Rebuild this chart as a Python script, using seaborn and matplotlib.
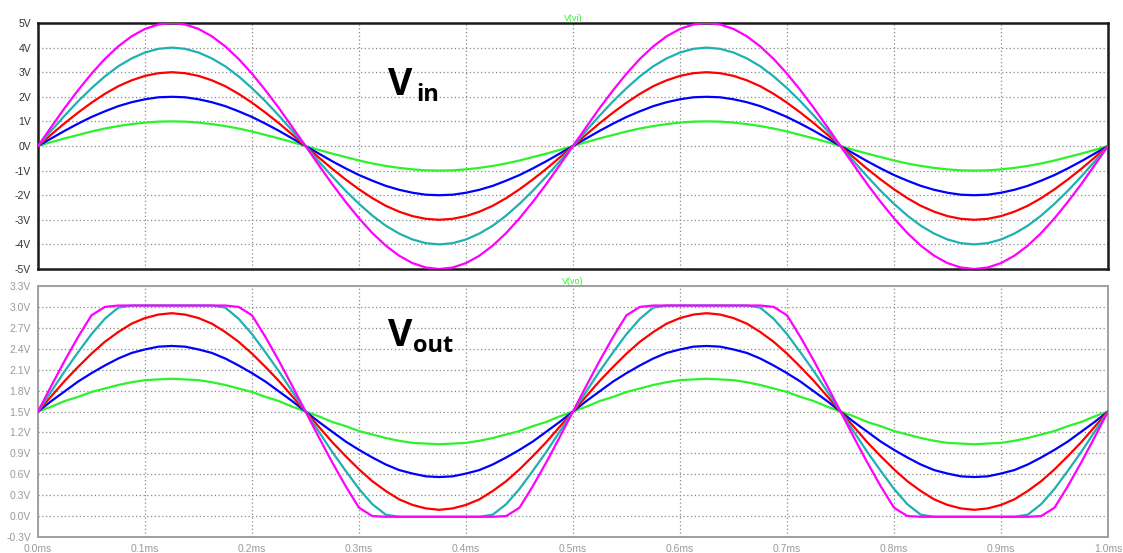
import numpy as np
import pandas as pd
import matplotlib
matplotlib.use("Agg")
import matplotlib.pyplot as plt
import seaborn as sns

# ---------------- data ----------------
# time samples in ms, step 0.0125 ms
time_ms = [round(i * 0.0125, 4) for i in range(81)]

vin_1 = [0, .16, .31, .45, .59, .71, .81, .89, .95, .99, 1, .99, .95, .89, .81, .71, .59, .45, .31, .16, 0,
         -.16, -.31, -.45, -.59, -.71, -.81, -.89, -.95, -.99, -1, -.99, -.95, -.89, -.81, -.71, -.59, -.45, -.31, -.16, 0,
         .16, .31, .45, .59, .71, .81, .89, .95, .99, 1, .99, .95, .89, .81, .71, .59, .45, .31, .16, 0,
         -.16, -.31, -.45, -.59, -.71, -.81, -.89, -.95, -.99, -1, -.99, -.95, -.89, -.81, -.71, -.59, -.45, -.31, -.16, 0]
vin_2 = [0, .31, .62, .91, 1.18, 1.41, 1.62, 1.78, 1.90, 1.98, 2, 1.98, 1.90, 1.78, 1.62, 1.41, 1.18, .91, .62, .31, 0,
         -.31, -.62, -.91, -1.18, -1.41, -1.62, -1.78, -1.90, -1.98, -2, -1.98, -1.90, -1.78, -1.62, -1.41, -1.18, -.91, -.62, -.31, 0,
         .31, .62, .91, 1.18, 1.41, 1.62, 1.78, 1.90, 1.98, 2, 1.98, 1.90, 1.78, 1.62, 1.41, 1.18, .91, .62, .31, 0,
         -.31, -.62, -.91, -1.18, -1.41, -1.62, -1.78, -1.90, -1.98, -2, -1.98, -1.90, -1.78, -1.62, -1.41, -1.18, -.91, -.62, -.31, 0]
vin_3 = [0, .47, .93, 1.36, 1.76, 2.12, 2.43, 2.67, 2.85, 2.96, 3, 2.96, 2.85, 2.67, 2.43, 2.12, 1.76, 1.36, .93, .47, 0,
         -.47, -.93, -1.36, -1.76, -2.12, -2.43, -2.67, -2.85, -2.96, -3, -2.96, -2.85, -2.67, -2.43, -2.12, -1.76, -1.36, -.93, -.47, 0,
         .47, .93, 1.36, 1.76, 2.12, 2.43, 2.67, 2.85, 2.96, 3, 2.96, 2.85, 2.67, 2.43, 2.12, 1.76, 1.36, .93, .47, 0,
         -.47, -.93, -1.36, -1.76, -2.12, -2.43, -2.67, -2.85, -2.96, -3, -2.96, -2.85, -2.67, -2.43, -2.12, -1.76, -1.36, -.93, -.47, 0]
vin_4 = [0, .63, 1.24, 1.82, 2.35, 2.83, 3.24, 3.56, 3.80, 3.95, 4, 3.95, 3.80, 3.56, 3.24, 2.83, 2.35, 1.82, 1.24, .63, 0,
         -.63, -1.24, -1.82, -2.35, -2.83, -3.24, -3.56, -3.80, -3.95, -4, -3.95, -3.80, -3.56, -3.24, -2.83, -2.35, -1.82, -1.24, -.63, 0,
         .63, 1.24, 1.82, 2.35, 2.83, 3.24, 3.56, 3.80, 3.95, 4, 3.95, 3.80, 3.56, 3.24, 2.83, 2.35, 1.82, 1.24, .63, 0,
         -.63, -1.24, -1.82, -2.35, -2.83, -3.24, -3.56, -3.80, -3.95, -4, -3.95, -3.80, -3.56, -3.24, -2.83, -2.35, -1.82, -1.24, -.63, 0]
vin_5 = [0, .78, 1.55, 2.27, 2.94, 3.54, 4.05, 4.46, 4.76, 4.94, 5, 4.94, 4.76, 4.46, 4.05, 3.54, 2.94, 2.27, 1.55, .78, 0,
         -.78, -1.55, -2.27, -2.94, -3.54, -4.05, -4.46, -4.76, -4.94, -5, -4.94, -4.76, -4.46, -4.05, -3.54, -2.94, -2.27, -1.55, -.78, 0,
         .78, 1.55, 2.27, 2.94, 3.54, 4.05, 4.46, 4.76, 4.94, 5, 4.94, 4.76, 4.46, 4.05, 3.54, 2.94, 2.27, 1.55, .78, 0,
         -.78, -1.55, -2.27, -2.94, -3.54, -4.05, -4.46, -4.76, -4.94, -5, -4.94, -4.76, -4.46, -4.05, -3.54, -2.94, -2.27, -1.55, -.78, 0]

vout_1 = [1.5, 1.57, 1.65, 1.71, 1.78, 1.83, 1.88, 1.92, 1.95, 1.96, 1.97, 1.96, 1.95, 1.92, 1.88, 1.83, 1.78, 1.71, 1.65, 1.57, 1.5,
          1.43, 1.35, 1.29, 1.22, 1.17, 1.12, 1.08, 1.05, 1.04, 1.03, 1.04, 1.05, 1.08, 1.12, 1.17, 1.22, 1.29, 1.35, 1.43, 1.5,
          1.57, 1.65, 1.71, 1.78, 1.83, 1.88, 1.92, 1.95, 1.96, 1.97, 1.96, 1.95, 1.92, 1.88, 1.83, 1.78, 1.71, 1.65, 1.57, 1.5,
          1.43, 1.35, 1.29, 1.22, 1.17, 1.12, 1.08, 1.05, 1.04, 1.03, 1.04, 1.05, 1.08, 1.12, 1.17, 1.22, 1.29, 1.35, 1.43, 1.5]
vout_2 = [1.5, 1.65, 1.79, 1.93, 2.05, 2.16, 2.26, 2.34, 2.39, 2.43, 2.44, 2.43, 2.39, 2.34, 2.26, 2.16, 2.05, 1.93, 1.79, 1.65, 1.5,
          1.35, 1.21, 1.07, .95, .84, .74, .66, .61, .57, .56, .57, .61, .66, .74, .84, .95, 1.07, 1.21, 1.35, 1.5,
          1.65, 1.79, 1.93, 2.05, 2.16, 2.26, 2.34, 2.39, 2.43, 2.44, 2.43, 2.39, 2.34, 2.26, 2.16, 2.05, 1.93, 1.79, 1.65, 1.5,
          1.35, 1.21, 1.07, .95, .84, .74, .66, .61, .57, .56, .57, .61, .66, .74, .84, .95, 1.07, 1.21, 1.35, 1.5]
vout_3 = [1.5, 1.72, 1.94, 2.14, 2.33, 2.50, 2.64, 2.76, 2.84, 2.89, 2.91, 2.89, 2.84, 2.76, 2.64, 2.50, 2.33, 2.14, 1.94, 1.72, 1.5,
          1.28, 1.06, .86, .67, .50, .36, .24, .16, .11, .09, .11, .16, .24, .36, .50, .67, .86, 1.06, 1.28, 1.5,
          1.72, 1.94, 2.14, 2.33, 2.50, 2.64, 2.76, 2.84, 2.89, 2.91, 2.89, 2.84, 2.76, 2.64, 2.50, 2.33, 2.14, 1.94, 1.72, 1.5,
          1.28, 1.06, .86, .67, .50, .36, .24, .16, .11, .09, .11, .16, .24, .36, .50, .67, .86, 1.06, 1.28, 1.5]
vout_4 = [1.5, 1.79, 2.08, 2.35, 2.61, 2.83, 2.99, 3.02, 3.02, 3.02, 3.02, 3.02, 3.02, 3.02, 2.99, 2.83, 2.61, 2.35, 2.08, 1.79, 1.5,
          1.21, .92, .65, .39, .17, .02, -.01, -.01, -.01, -.01, -.01, -.01, -.01, .02, .17, .39, .65, .92, 1.21, 1.5,
          1.79, 2.08, 2.35, 2.61, 2.83, 2.99, 3.02, 3.02, 3.02, 3.02, 3.02, 3.02, 3.02, 2.99, 2.83, 2.61, 2.35, 2.08, 1.79, 1.5,
          1.21, .92, .65, .39, .17, .02, -.01, -.01, -.01, -.01, -.01, -.01, -.01, .02, .17, .39, .65, .92, 1.21, 1.5]
vout_5 = [1.5, 1.87, 2.23, 2.57, 2.88, 3.0, 3.02, 3.02, 3.02, 3.02, 3.02, 3.02, 3.02, 3.02, 3.02, 3.0, 2.88, 2.57, 2.23, 1.87, 1.5,
          1.13, .77, .43, .12, 0.0, -.01, -.01, -.01, -.01, -.01, -.01, -.01, -.01, -.01, 0.0, .12, .43, .77, 1.13, 1.5,
          1.87, 2.23, 2.57, 2.88, 3.0, 3.02, 3.02, 3.02, 3.02, 3.02, 3.02, 3.02, 3.02, 3.02, 3.0, 2.88, 2.57, 2.23, 1.87, 1.5,
          1.13, .77, .43, .12, 0.0, -.01, -.01, -.01, -.01, -.01, -.01, -.01, -.01, -.01, 0.0, .12, .43, .77, 1.13, 1.5]

series_names = ["1V", "2V", "3V", "4V", "5V"]
series_colors = ["#2cf22c", "#0000ff", "#ff0000", "#1fb0b0", "#ff00ff"]

x_ticks = [0.0, 0.1, 0.2, 0.3, 0.4, 0.5, 0.6, 0.7, 0.8, 0.9, 1.0]
x_labels = ["0.0ms", "0.1ms", "0.2ms", "0.3ms", "0.4ms", "0.5ms", "0.6ms", "0.7ms", "0.8ms", "0.9ms", "1.0ms"]
vin_ticks = [-5, -4, -3, -2, -1, 0, 1, 2, 3, 4, 5]
vin_labels = ["-5V", "-4V", "-3V", "-2V", "-1V", "0V", "1V", "2V", "3V", "4V", "5V"]
vout_ticks = [-0.3, 0.0, 0.3, 0.6, 0.9, 1.2, 1.5, 1.8, 2.1, 2.4, 2.7, 3.0, 3.3]
vout_labels = ["-0.3V", "0.0V", "0.3V", "0.6V", "0.9V", "1.2V", "1.5V", "1.8V", "2.1V", "2.4V", "2.7V", "3.0V", "3.3V"]

# ---------------- tidy tables ----------------
def tidy(series_list):
    frames = []
    for name, vals in zip(series_names, series_list):
        frames.append(pd.DataFrame({"t": time_ms, "v": vals, "series": name}))
    return pd.concat(frames, ignore_index=True)

df_in = tidy([vin_1, vin_2, vin_3, vin_4, vin_5])
df_out = tidy([vout_1, vout_2, vout_3, vout_4, vout_5])

# ---------------- figure ----------------
sns.set_theme(style="white")
plt.rcParams['font.family'] = ['Liberation Sans', 'DejaVu Sans']

W, H = 1123, 553
fig = plt.figure(figsize=(W / 100, H / 100), dpi=100)

def fax(left, top, right, bottom):
    return fig.add_axes([left / W, 1 - bottom / H, (right - left) / W, (bottom - top) / H])

ax1 = fax(38, 23, 1108, 269)
ax2 = fax(38, 286, 1108, 537)

palette = dict(zip(series_names, series_colors))
for ax, df in ((ax1, df_in), (ax2, df_out)):
    sns.lineplot(data=df, x="t", y="v", hue="series", palette=palette, ax=ax,
                 legend=False, estimator=None, sort=False, linewidth=1.6, zorder=3)
    ax.set_xlim(0, 1.0)
    ax.set_xticks(x_ticks)
    ax.grid(True, color="#8a8a8a", linestyle=(0, (1, 2)), linewidth=0.9)
    ax.set_xlabel("")
    ax.set_ylabel("")
    ax.set_facecolor("white")

# top panel
ax1.set_ylim(-5, 5)
ax1.set_yticks(vin_ticks)
ax1.set_yticklabels(vin_labels, fontsize=7.5, color="#333333")
ax1.set_xticklabels([])
ax1.tick_params(axis="y", direction="out", length=4, width=1, color="#333333", pad=1)
ax1.tick_params(axis="x", length=0)
for s in ax1.spines.values():
    s.set_color("#1a1a1a")
    s.set_linewidth(1.8)
ax1.set_title("V(vi)", color="#2cf22c", fontsize=6.5, pad=1.5)

# bottom panel
ax2.set_ylim(-0.3, 3.3)
ax2.set_yticks(vout_ticks)
ax2.set_yticklabels(vout_labels, fontsize=7.5, color="#9a9a9a")
ax2.set_xticklabels(x_labels, fontsize=7.5, color="#9a9a9a")
ax2.tick_params(axis="both", direction="out", length=4, width=1, color="#9a9a9a", pad=1)
for s in ax2.spines.values():
    s.set_color("#a0a0a0")
    s.set_linewidth(1.4)
ax2.set_title("V(vo)", color="#2cf22c", fontsize=6.5, pad=1.5)

# annotations V_in / V_out
bold = dict(fontweight="bold", color="black", family=["Open Sans", "DejaVu Sans"])
fig.text(388 / W, 1 - 95 / H, "V", fontsize=27, va="baseline", ha="left", **bold)
fig.text(416 / W, 1 - 101 / H, "in", fontsize=17, va="baseline", ha="left", **bold)
fig.text(388 / W, 1 - 346 / H, "V", fontsize=27, va="baseline", ha="left", **bold)
fig.text(413 / W, 1 - 352 / H, "out", fontsize=17, va="baseline", ha="left", **bold)

fig.savefig("out.png", dpi=100, facecolor="white")
